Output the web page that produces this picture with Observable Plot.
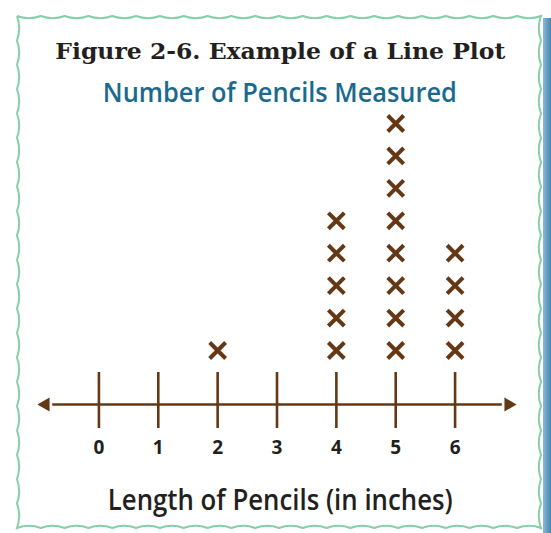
<!DOCTYPE html>
<html><head><meta charset="utf-8">
<script src="https://cdn.jsdelivr.net/npm/d3@7"></script>
<script src="https://cdn.jsdelivr.net/npm/@observablehq/plot@0.6"></script>
<style>
body{margin:0;background:#fff;}
#wrap{position:relative;width:551px;height:533px;overflow:hidden;background:#fff;}
.t{position:absolute;left:0;top:0;display:inline-block;white-space:nowrap;line-height:1;transform-origin:50% 50%;}
#title{font-family:"DejaVu Serif";font-weight:bold;color:#231f20;}
#subtitle{font-family:"Open Sans";font-weight:600;color:#1b6a8e;}
#xlabel{font-family:"Open Sans";font-weight:600;color:#231f20;}
#strip{position:absolute;left:543px;top:18px;width:8px;height:515px;background:linear-gradient(to right,#8fb9d3,#3f86b2);}
#chart{position:absolute;left:0;top:0;}
#border{position:absolute;left:0;top:0;}
</style></head>
<body><div id="wrap">
<div id="strip"></div>
<svg id="border" width="551" height="533"></svg>
<div id="chart"></div>
<span class="t" id="title">Figure 2-6. Example of a Line Plot</span>
<span class="t" id="subtitle">Number of Pencils Measured</span>
<span class="t" id="xlabel">Length of Pencils (in inches)</span>
</div>
<script>
// Data
const lengths = [0, 1, 2, 3, 4, 5, 6];
const counts  = [0, 0, 1, 0, 5, 8, 4];
const xTicks  = [0, 1, 2, 3, 4, 5, 6];
const xDomain = [-0.9, 6.9];
const yDomain = [1, 8];

const brown = "#653815";
const points = lengths.flatMap((len, i) => d3.range(1, counts[i] + 1).map(k => ({len, k})));

// Wavy decorative border
(function(){
  const svg = d3.select("#border");
  const L = 17, T = 16, R = 541, B = 528, w = 24, a = 2.2;
  function wavy(x0,y0,x1,y1){
    const len = Math.hypot(x1-x0,y1-y0), n = Math.max(1,Math.round(len/w));
    const ux=(x1-x0)/len, uy=(y1-y0)/len, px=-uy, py=ux, step=len/n;
    let d = `M${x0},${y0}`;
    for(let i=0;i<n;i++){
      const sx=x0+ux*step*i, sy=y0+uy*step*i;
      const mx=sx+ux*step/2+px*a*2, my=sy+uy*step/2+py*a*2;
      const ex=sx+ux*step, ey=sy+uy*step;
      d += ` Q${mx},${my} ${ex},${ey}`;
    }
    return d;
  }
  const d = wavy(L,T,R,T)+wavy(R,T,R,B).replace("M","L")+wavy(R,B,L,B).replace("M","L")+wavy(L,B,L,T).replace("M","L");
  svg.append("path").attr("d",d).attr("fill","none").attr("stroke","#86cfab").attr("stroke-width",2);
})();

// Text placement: font size, target width, center x, baseline y
function place(id, size, targetW, cx, baseline){
  const el = document.getElementById(id);
  el.style.fontSize = size + "px";
  const probe = document.createElement("span");
  probe.style.display = "inline-block"; probe.style.height = "0"; probe.style.width = "0";
  el.append(probe);
  const r = el.getBoundingClientRect();
  const base = probe.getBoundingClientRect().top - r.top;
  probe.remove();
  const w = el.getBoundingClientRect().width;
  el.style.left = (cx - w / 2) + "px";
  el.style.top = (baseline - base) + "px";
  el.style.transform = `scaleX(${targetW / w})`;
}

const chart = Plot.plot({
  width: 551,
  height: 533,
  marginLeft: 45,
  marginRight: 43,
  marginTop: 110,
  marginBottom: 129,
  style: {background: "transparent", overflow: "visible"},
  x: {domain: xDomain, label: null},
  y: {domain: yDomain, range: [350, 123], axis: null},
  marks: [
    // baseline
    Plot.frame({anchor: "bottom", stroke: brown, strokeWidth: 2.6, insetLeft: 8, insetRight: 8}),
    // arrowheads
    Plot.dot(xDomain, {x: d => d, frameAnchor: "bottom", symbol: "triangle", r: 5.2,
      rotate: d => d < 0 ? -90 : 90, fill: brown, stroke: "none"}),
    // tick marks crossing the line
    Plot.axisX(xTicks, {tickSize: 56, text: null, label: null, dy: -32, stroke: brown, strokeWidth: 2.6, strokeOpacity: 1}),
    // tick labels
    Plot.axisX(xTicks, {tickSize: 0, tickPadding: 36, fontSize: 19, fontWeight: "bold",
      fontFamily: "Open Sans", fill: "#231f20", label: null}),
    // X marks
    Plot.dot(points, {x: "len", y: "k", symbol: "times", r: 7.3, stroke: brown, strokeWidth: 4})
  ]
});
document.getElementById("chart").append(chart);

place("title", 23, 450, 280, 58.5);
place("subtitle", 27.5, 354, 280, 101.7);
place("xlabel", 28, 345, 280.5, 509.5);
</script>
</body></html>
